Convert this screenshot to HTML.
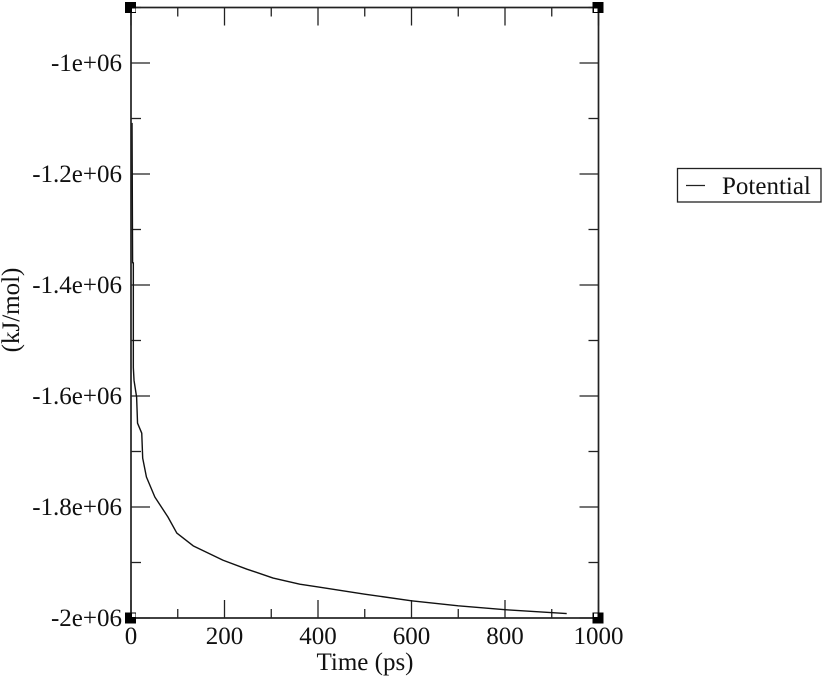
<!DOCTYPE html>
<html>
<head>
<meta charset="utf-8">
<title>Potential vs Time</title>
<style>
html,body{margin:0;padding:0;background:#fff;width:828px;height:677px;overflow:hidden}
svg{display:block;position:absolute;left:0;top:0;filter:blur(0.35px)}
text{font-family:"Liberation Serif",serif;fill:#111}
</style>
</head>
<body>
<svg id="chart" width="828" height="677" viewBox="0 0 828 677" xmlns="http://www.w3.org/2000/svg">
  <g id="ticks"></g>
  <path id="series" fill="none" stroke="#111" stroke-width="1.4" stroke-linejoin="round"></path>
  <rect x="131" y="7.5" width="467.5" height="610.5" fill="none" stroke="#222" stroke-width="1.7"></rect>
  <g id="handles"></g>
  <g id="labels"></g>
  <text x="365" y="670" font-size="25" text-anchor="middle">Time (ps)</text>
  <text transform="translate(19,310) rotate(-90)" font-size="25" text-anchor="middle">(kJ/mol)</text>
  <g>
    <rect x="677.5" y="168.5" width="143.5" height="33.5" fill="#fff" stroke="#222" stroke-width="1.3"></rect>
    <line x1="686" y1="185.5" x2="705" y2="185.5" stroke="#222" stroke-width="1.3"></line>
    <text x="722" y="194" font-size="25">Potential</text>
  </g>
</svg>
<script>
const timeValues = [2.2, 3.4, 2.2, 3.4, 2.2, 3.4, 5, 5, 6.5, 12, 14, 23, 25, 33, 51, 79, 98, 133, 197, 248, 304, 361, 400, 500, 600, 700, 800, 932];
const potentialValues = [-1108000, -1360000, -1130000, -1360000, -1160000, -1360000, -1360000, -1549000, -1572000, -1602000, -1649000, -1667000, -1712000, -1746000, -1782000, -1818000, -1847000, -1870000, -1896000, -1912000, -1928000, -1939000, -1944000, -1957000, -1969000, -1978000, -1985000, -1992000];
const xMajorTicks = [0, 200, 400, 600, 800, 1000];
const xMinorTicks = [100, 300, 500, 700, 900];
const yMajorTicks = [-1000000, -1200000, -1400000, -1600000, -1800000, -2000000];
const yMinorTicks = [-900000, -1100000, -1300000, -1500000, -1700000, -1900000];
const yTickLabels = ['-1e+06', '-1.2e+06', '-1.4e+06', '-1.6e+06', '-1.8e+06', '-2e+06'];

const NS = 'http://www.w3.org/2000/svg';
const left = 131, right = 598.5, top_ = 7.5, bottom = 618;
function xScale(t) { return left + (t / 1000) * (right - left); }
function yScale(v) { return bottom - ((v + 2000000) / 1100000) * (bottom - top_); }

const ticksGroup = document.getElementById('ticks');
const labelsGroup = document.getElementById('labels');
const handlesGroup = document.getElementById('handles');

function addTick(x1, y1, x2, y2, name) {
  const l = document.createElementNS(NS, 'line');
  l.setAttribute('x1', x1);
  l.setAttribute('y1', y1);
  l.setAttribute('x2', x2);
  l.setAttribute('y2', y2);
  l.setAttribute('stroke', '#222');
  l.setAttribute('stroke-width', '1.3');
  
  
  ticksGroup.appendChild(l);
}
function addLabel(x, y, anchor, str, name) {
  const t = document.createElementNS(NS, 'text');
  t.setAttribute('x', x);
  t.setAttribute('y', y);
  t.setAttribute('text-anchor', anchor);
  t.setAttribute('font-size', '25');
  t.textContent = str;
  
  
  labelsGroup.appendChild(t);
}
xMajorTicks.forEach(function (t) {
  const x = xScale(t);
  addTick(x, bottom, x, bottom - 18, 'x-major-tick');
  addTick(x, top_, x, top_ + 18, 'x-major-tick-top');
  addLabel(x, 644, 'middle', String(t), 'x-tick-label');
});
xMinorTicks.forEach(function (t) {
  const x = xScale(t);
  addTick(x, bottom, x, bottom - 9, 'x-minor-tick');
  addTick(x, top_, x, top_ + 9, 'x-minor-tick-top');
});
yMajorTicks.forEach(function (v, i) {
  const y = yScale(v);
  addTick(left, y, left + 19, y, 'y-major-tick');
  addTick(right, y, right - 19, y, 'y-major-tick-right');
  addLabel(122, y + 8, 'end', yTickLabels[i], 'y-tick-label');
});
yMinorTicks.forEach(function (v) {
  const y = yScale(v);
  addTick(left, y, left + 10, y, 'y-minor-tick');
  addTick(right, y, right - 10, y, 'y-minor-tick-right');
});

let d = '';
timeValues.forEach(function (t, i) {
  d += (i ? 'L' : 'M') + xScale(t).toFixed(2) + ' ' + yScale(potentialValues[i]).toFixed(2);
});
document.getElementById('series').setAttribute('d', d);

function addHandle(cx, cy, ix, iy) {
  const r = document.createElementNS(NS, 'rect');
  r.setAttribute('x', cx - 6);
  r.setAttribute('y', cy - 5.5);
  r.setAttribute('width', 11);
  r.setAttribute('height', 11);
  r.setAttribute('fill', '#000');
  
  
  handlesGroup.appendChild(r);
  const w = document.createElementNS(NS, 'rect');
  w.setAttribute('x', ix);
  w.setAttribute('y', iy);
  w.setAttribute('width', 3.5);
  w.setAttribute('height', 3.5);
  w.setAttribute('fill', '#fff');
  
  
  handlesGroup.appendChild(w);
}
addHandle(left, top_, left + 1, top_ + 1);
addHandle(right, top_, right - 4.5, top_ + 1);
addHandle(left, bottom, left + 1, bottom - 4.5);
addHandle(right, bottom, right - 4.5, bottom - 4.5);
</script>
</body>
</html>
